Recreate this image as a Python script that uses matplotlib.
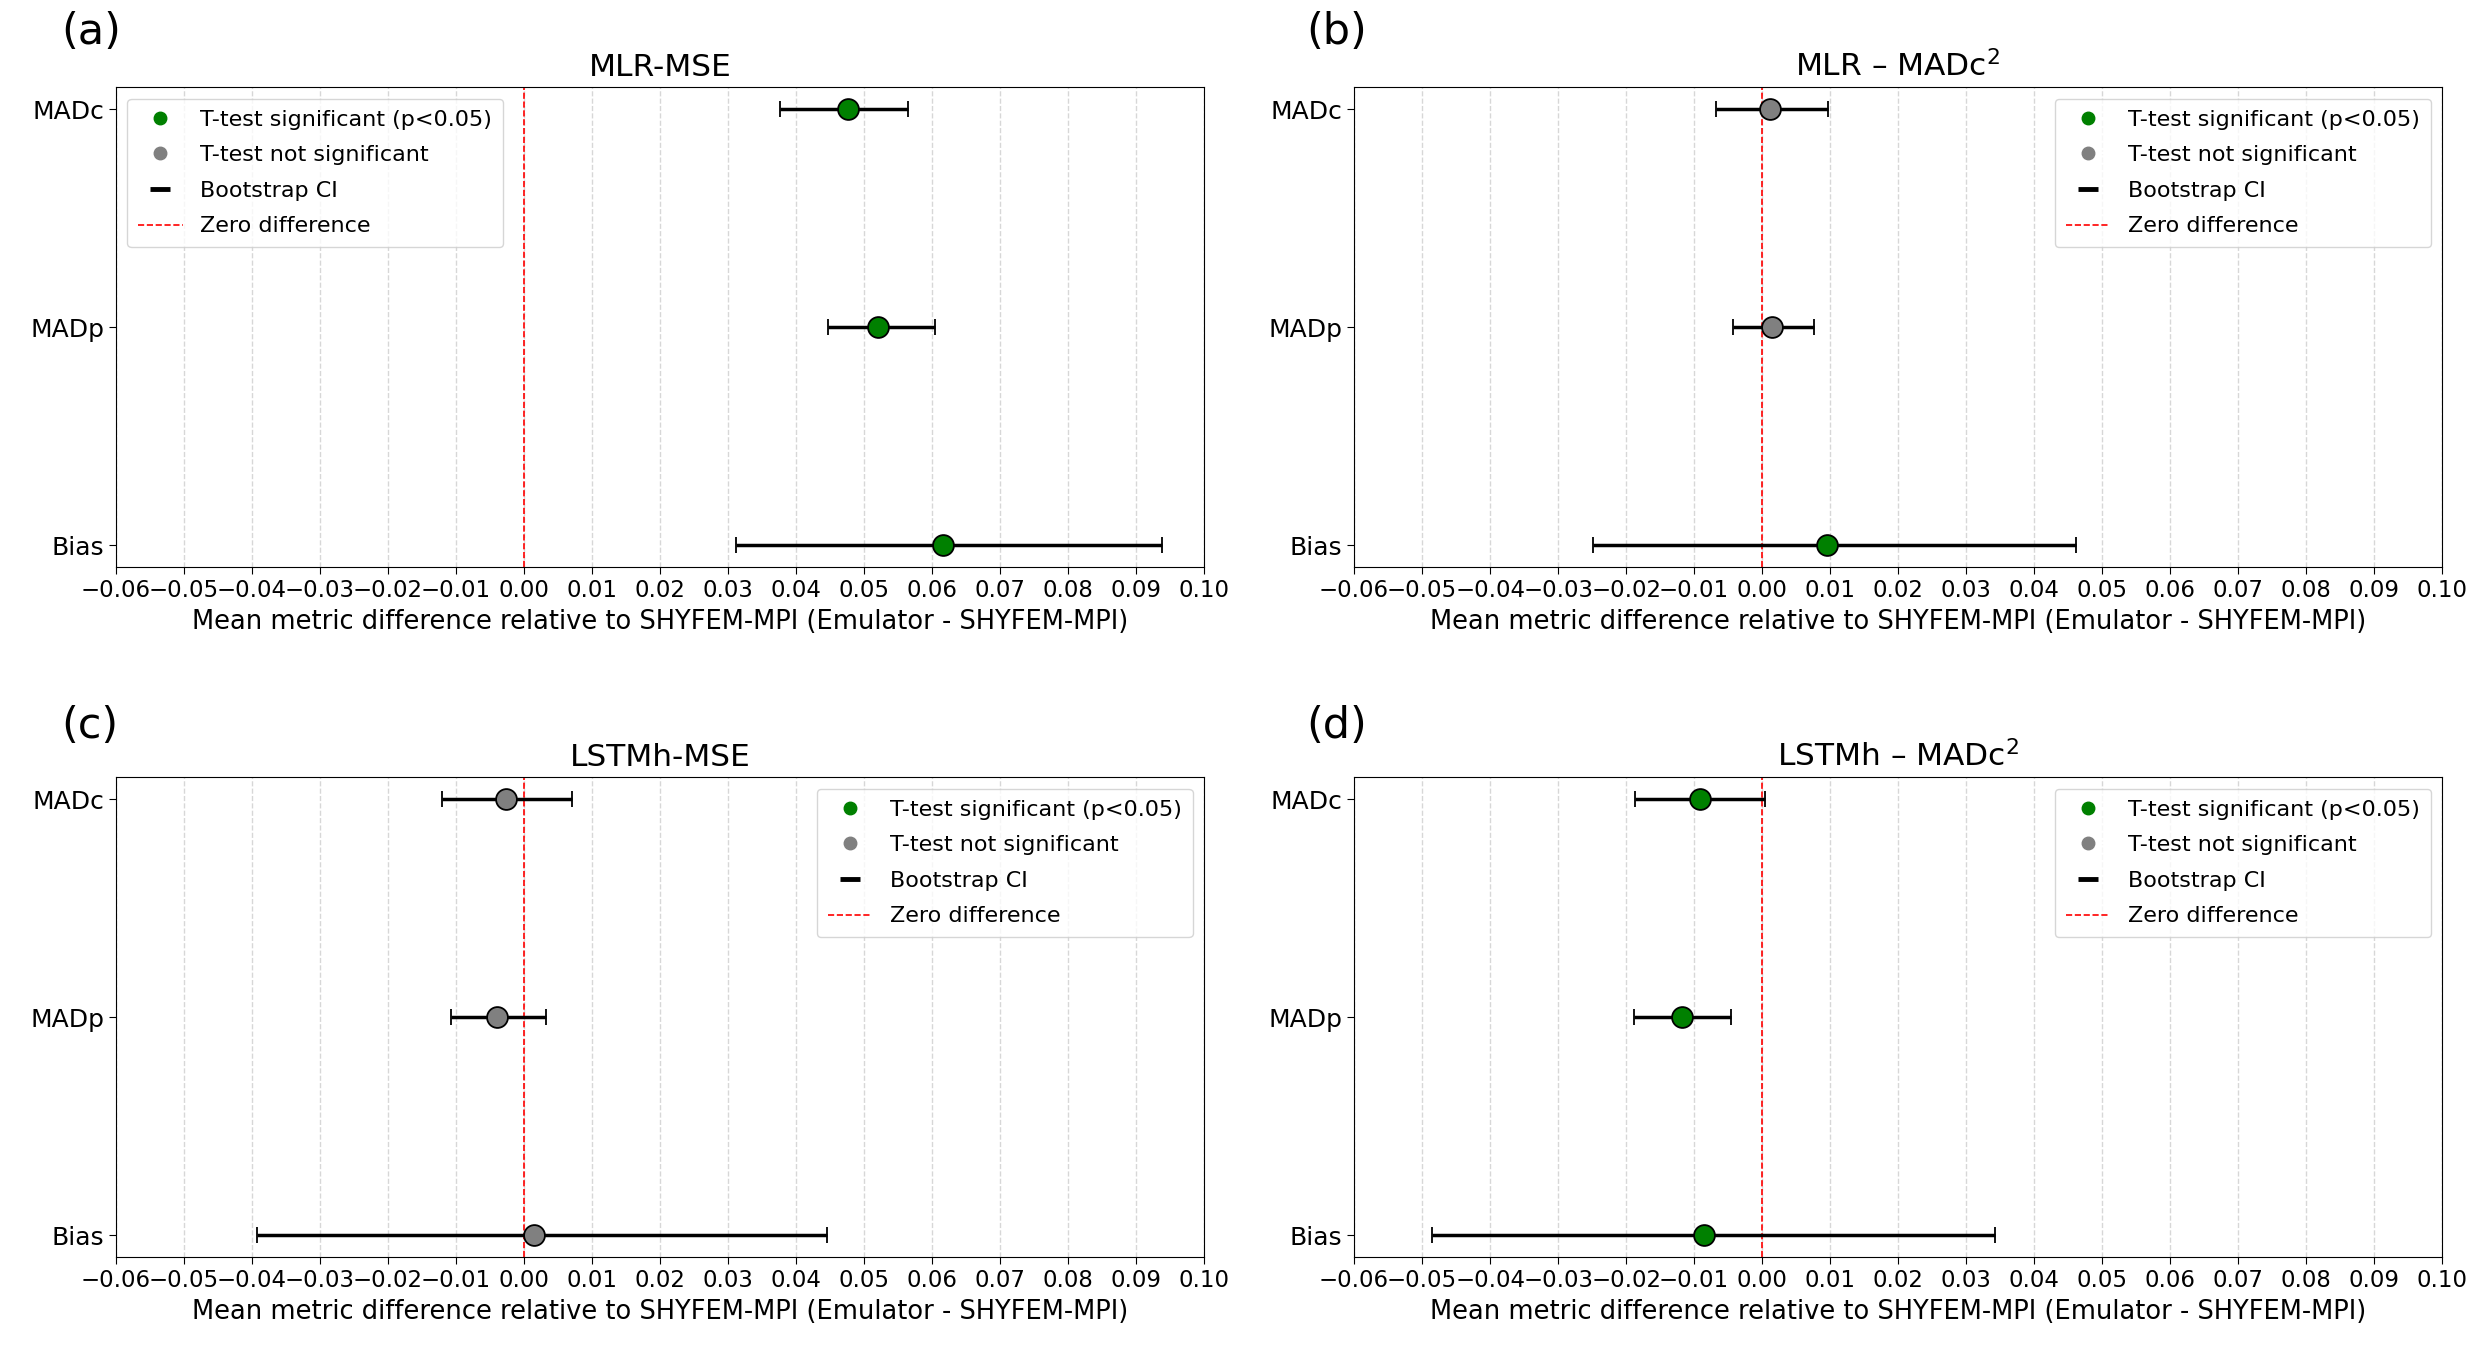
import matplotlib
matplotlib.use("Agg")
import matplotlib.pyplot as plt
from matplotlib.lines import Line2D
import numpy as np

plt.rcParams['font.family'] = ['DejaVu Sans']

metrics = ["MADc", "MADp", "Bias"]
panel_labels = ["(a)", "(b)", "(c)", "(d)"]
titles = ["MLR-MSE", "MLR – MADc$^{2}$", "LSTMh-MSE", "LSTMh – MADc$^{2}$"]

# mean differences (MADc, MADp, Bias)
mean_a = [0.0476, 0.0521, 0.0616]
mean_b = [0.0012, 0.0014, 0.0096]
mean_c = [-0.0026, -0.0040, 0.0015]
mean_d = [-0.0092, -0.0118, -0.0085]

# bootstrap CI lower / upper
ci_lo_a = [0.0377, 0.0447, 0.0312]
ci_hi_a = [0.0565, 0.0604, 0.0938]
ci_lo_b = [-0.0068, -0.0043, -0.0249]
ci_hi_b = [0.0097, 0.0076, 0.0461]
ci_lo_c = [-0.0121, -0.0107, -0.0393]
ci_hi_c = [0.0071, 0.0033, 0.0446]
ci_lo_d = [-0.0187, -0.0188, -0.0486]
ci_hi_d = [0.0005, -0.0046, 0.0343]

# t-test significance
sig_a = [True, True, True]
sig_b = [False, False, True]
sig_c = [False, False, False]
sig_d = [True, True, True]

xticks = [round(v, 2) for v in np.arange(-0.06, 0.1001, 0.01)]
legend_loc = ["upper left", "upper right", "upper right", "upper right"]

panels = [
    (mean_a, ci_lo_a, ci_hi_a, sig_a),
    (mean_b, ci_lo_b, ci_hi_b, sig_b),
    (mean_c, ci_lo_c, ci_hi_c, sig_c),
    (mean_d, ci_lo_d, ci_hi_d, sig_d),
]

fig = plt.figure(figsize=(24.9, 13.5), dpi=100)
lefts = [0.0466, 0.5438, 0.0466, 0.5438]
bottoms = [0.580, 0.580, 0.0689, 0.0689]
w = 0.43695
h = 0.3552

label_pos = [(0.0245, 0.992), (0.5247, 0.992), (0.0245, 0.4775), (0.5247, 0.4775)]

for i, (means, lo, hi, sig) in enumerate(panels):
    ax = fig.add_axes([lefts[i], bottoms[i], w, h])
    ypos = np.arange(len(metrics))[::-1]
    for j in range(len(metrics)):
        m = means[j]
        color = "green" if sig[j] else "gray"
        ax.errorbar(m, ypos[j], xerr=[[m - lo[j]], [hi[j] - m]], fmt='o',
                    color='black', ecolor='black', elinewidth=2.5, capsize=6,
                    capthick=1.6, markersize=15, markerfacecolor=color,
                    markeredgecolor='black', markeredgewidth=1.3, zorder=3)
    ax.axvline(0, color='red', linestyle='--', linewidth=1.2, zorder=2)
    ax.set_xlim(-0.06, 0.10)
    ax.set_xticks(xticks)
    ax.set_xticklabels([f"{t:.2f}".replace("-", "\u2212") for t in xticks], fontsize=16.5)
    ax.set_yticks(ypos)
    ax.set_yticklabels(metrics, fontsize=18)
    ax.tick_params(axis='both', length=5)
    ax.grid(axis='x', linestyle='--', color='lightgray', linewidth=1.0, alpha=0.9)
    ax.set_axisbelow(True)
    ax.set_xlabel("Mean metric difference relative to SHYFEM-MPI (Emulator - SHYFEM-MPI)",
                  fontsize=18.5, labelpad=5)
    ax.set_title(titles[i], fontsize=22.5, pad=8)
    handles = [
        Line2D([0], [0], marker='o', color='w', markerfacecolor='green',
               markeredgecolor='green', markersize=9, label='T-test significant (p<0.05)'),
        Line2D([0], [0], marker='o', color='w', markerfacecolor='gray',
               markeredgecolor='gray', markersize=9, label='T-test not significant'),
        Line2D([0], [0], marker='_', color='black', linestyle='None', markersize=14,
               markeredgewidth=3.5, label='Bootstrap CI'),
        Line2D([0], [0], color='red', linestyle='--', linewidth=1.2, label='Zero difference'),
    ]
    ax.legend(handles=handles, loc=legend_loc[i], fontsize=16, labelspacing=0.7,
              borderpad=0.5)
    fig.text(label_pos[i][0], label_pos[i][1], panel_labels[i], fontsize=31,
             ha='left', va='top')

fig.savefig("out.png", dpi=100)
